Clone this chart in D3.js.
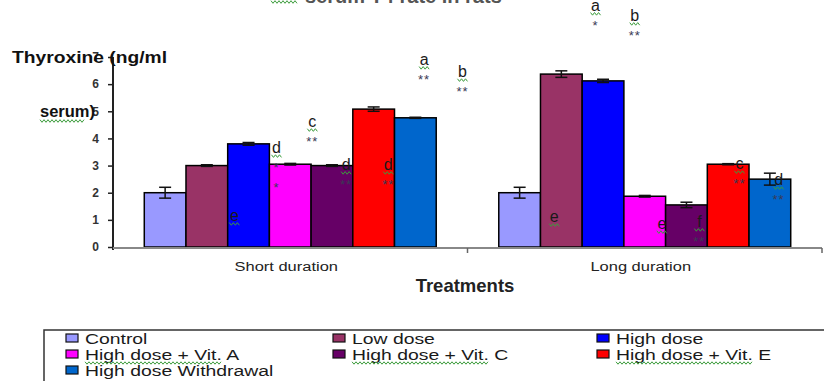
<!DOCTYPE html>
<html>
<head>
<meta charset="utf-8">
<script src="https://cdn.jsdelivr.net/npm/d3@7/dist/d3.min.js"></script>
<style>
  body { margin: 0; background: #fff; }
  svg { display: block; font-family: "Liberation Sans", Arial, sans-serif; }
</style>
</head>
<body>
<div id="graph"></div>
<script>
const groups = ["Short duration", "Long duration"]
const series = ["Control", "Low dose", "High dose", "High dose + Vit. A",
  "High dose + Vit. C", "High dose + Vit. E", "High dose Withdrawal"]
const colors = ["#9999ff", "#993366", "#0000ff", "#ff00ff", "#660066", "#ff0000", "#0066cc"]

const shortValues = [2.0, 3.0, 3.8, 3.05, 3.0, 5.08, 4.76]
const longValues = [2.0, 6.37, 6.12, 1.87, 1.55, 3.05, 2.5]
const shortErrors = [0.2, 0.03, 0.05, 0.03, 0.03, 0.08, 0.02]
const longErrors = [0.2, 0.12, 0.06, 0.03, 0.1, 0.02, 0.22]
const yTicks = [0, 1, 2, 3, 4, 5, 6, 7]

// significance letters: pos = bar index (fractional), y = letter baseline in data units
const shortNotes = [
  { pos: 1.66, y: 0.96, letter: "e", stars: [] },
  { pos: 2.67, y: 3.46, letter: "d", stars: ["*", "*"] },
  { pos: 3.53, y: 4.42, letter: "c", stars: ["**"] },
  { pos: 4.34, y: 2.84, letter: "d", stars: ["**"] },
  { pos: 5.35, y: 2.84, letter: "d", stars: ["**"] },
  { pos: 6.21, y: 6.71, letter: "a", stars: ["**"] },
  { pos: 7.13, y: 6.26, letter: "b", stars: ["**"] }
]
const longNotes = [
  { pos: 1.82, y: 8.7, letter: "a", stars: ["*"] },
  { pos: 2.76, y: 8.33, letter: "b", stars: ["**"] },
  { pos: 0.83, y: 0.92, letter: "e", stars: [] },
  { pos: 3.41, y: 0.66, letter: "e", stars: [] },
  { pos: 4.31, y: 0.74, letter: "f", stars: ["**"] },
  { pos: 5.27, y: 2.87, letter: "c", stars: ["**"] },
  { pos: 6.21, y: 2.28, letter: "d", stars: ["**"] }
]

const W = 824, H = 381
const svg = d3.select("#graph").append("svg")
  .attr("width", W)
  .attr("height", H)

const x0 = d3.scaleBand().domain(groups).range([113, 822])
const x1 = d3.scaleBand().domain(d3.range(series.length))
  .range([0, x0.bandwidth()]).paddingOuter(0.75).paddingInner(0)
const y = d3.scaleLinear().domain([0, 7]).range([247, 57])

// green spell-check squiggle
function squiggle(xa, xb, yy) {
  let pts = []
  for (let xx = xa, k = 0; xx <= xb; xx += 2, k++) pts.push([xx, yy + (k % 2 ? 1.3 : -1.3)])
  svg.append("path")
    .attr("d", d3.line()(pts))
    .attr("fill", "none")
    .attr("stroke", "#3c9c3c")
    .attr("stroke-width", 1)
}

// clipped title at the top
svg.append("text")
  .attr("x", 305).attr("y", 3)
  .text("serum T4 rate in rats")
  .style("font-size", "20px").style("font-weight", "bold").attr("fill", "#555")
squiggle(271, 297, 2)

const data = [
  { group: groups[0], values: shortValues, errors: shortErrors, notes: shortNotes },
  { group: groups[1], values: longValues, errors: longErrors, notes: longNotes }
]

// bars
data.forEach(g => {
  const gx = x0(g.group)
  svg.append("g").selectAll("rect")
    .data(g.values)
    .enter().append("rect")
    .attr("x", (d, i) => gx + x1(i))
    .attr("y", d => y(d))
    .attr("width", x1.bandwidth())
    .attr("height", d => y(0) - y(d))
    .attr("fill", (d, i) => colors[i])
    .attr("stroke", "#000")
    .attr("stroke-width", 1.5)

  // error bars
  const eb = svg.append("g").attr("stroke", "#111").attr("stroke-width", 1.5)
  g.values.forEach((v, i) => {
    const cx = gx + x1(i) + x1.bandwidth() / 2
    const e = g.errors[i]
    eb.append("line").attr("x1", cx).attr("x2", cx).attr("y1", y(v - e)).attr("y2", y(v + e))
    eb.append("line").attr("x1", cx - 6).attr("x2", cx + 6).attr("y1", y(v + e)).attr("y2", y(v + e))
    eb.append("line").attr("x1", cx - 6).attr("x2", cx + 6).attr("y1", y(v - e)).attr("y2", y(v - e))
  })
})

// axes
const yAxis = svg.append("g")
  .attr("transform", "translate(113,0)")
  .call(d3.axisLeft(y).tickValues(yTicks).tickFormat(d3.format("d")).tickSize(5).tickPadding(9))
yAxis.select(".domain").attr("stroke", "#222").attr("stroke-width", 2)
  .attr("d", "M0,57V250")
yAxis.selectAll(".tick line").attr("stroke", "#222").attr("stroke-width", 1.5)
yAxis.selectAll(".tick text")
  .style("font-size", "12px").style("font-weight", "bold")
  .style("font-family", "Liberation Sans, Arial, sans-serif").attr("fill", "#333")

const xAxis = svg.append("g")
  .attr("transform", "translate(0,248)")
xAxis.append("line").attr("x1", 113).attr("x2", 822).attr("stroke", "#888").attr("stroke-width", 2)
xAxis.selectAll(".sep")
  .data(groups.slice(1).concat(["end"]))
  .enter().append("line")
  .attr("x1", d => d === "end" ? x0.range()[1] : x0(d))
  .attr("x2", d => d === "end" ? x0.range()[1] : x0(d))
  .attr("y1", 0).attr("y2", 5)
  .attr("stroke", "#666").attr("stroke-width", 1.5)
xAxis.selectAll(".cat")
  .data(groups)
  .enter().append("text")
  .attr("transform", d => "translate(" + (x0(d) + x0.bandwidth() / 2 - 4) + ",23) scale(1.22,1)")
  .attr("text-anchor", "middle")
  .style("font-size", "13.5px")
  .attr("fill", "#222")
  .text(d => d)

svg.append("text")
  .attr("x", 465).attr("y", 292)
  .attr("text-anchor", "middle")
  .style("font-size", "18.5px").style("font-weight", "bold")
  .attr("fill", "#222")
  .text("Treatments")

// y axis title, split in two lines as in the original
svg.append("text")
  .attr("x", 12).attr("y", 63)
  .style("font-size", "16.5px").style("font-weight", "bold")
  .attr("fill", "#111")
  .attr("textLength", 155).attr("lengthAdjust", "spacingAndGlyphs")
  .text("Thyroxine (ng/ml")
svg.append("text")
  .attr("x", 40).attr("y", 117)
  .style("font-size", "16.5px").style("font-weight", "bold")
  .attr("fill", "#111")
  .text("serum)")
squiggle(40, 84, 121)

// significance letters and stars
data.forEach(g => {
  const gx = x0(g.group) + x1(0)
  const step = x1.step()
  g.notes.forEach(n => {
    const cx = gx + (n.pos + 0.5) * step
    const by = y(n.y)
    svg.append("text")
      .attr("x", cx).attr("y", by)
      .attr("text-anchor", "middle")
      .style("font-size", "16px")
      .attr("fill", "#1a1a1a")
      .text(n.letter)
    squiggle(cx - 5, cx + 5, by + 3)
    n.stars.forEach((s, k) => {
      svg.append("text")
        .attr("x", cx).attr("y", by + 19 + k * 20)
        .attr("text-anchor", "middle")
        .style("font-size", "13px")
        .style("letter-spacing", "1px")
        .attr("fill", "#3a3a55")
        .text(s)
    })
  })
})

// legend
svg.append("rect")
  .attr("x", 44).attr("y", 330)
  .attr("width", 800).attr("height", 60)
  .attr("fill", "#fff").attr("stroke", "#333").attr("stroke-width", 1.5)

const colX = [66, 333, 597]
const legend = svg.append("g").selectAll("g")
  .data(series)
  .enter().append("g")
  .attr("transform", (d, i) => "translate(" + colX[i % 3] + "," + (338 + Math.floor(i / 3) * 16) + ")")
legend.append("rect")
  .attr("x", 0).attr("y", -4)
  .attr("width", 12).attr("height", 8)
  .attr("fill", (d, i) => colors[i])
  .attr("stroke", "#111").attr("stroke-width", 1.2)
legend.append("text")
  .attr("transform", "translate(19,6) scale(1.25,1)")
  .style("font-size", "15.5px")
  .attr("fill", "#1a1a1a")
  .text(d => d)
legend.filter(d => d.indexOf("Vit.") >= 0)
  .append("path")
  .attr("d", d => {
    let pts = []
    for (let xx = 19, k = 0; xx <= 19 + d.length * 7.6; xx += 2, k++) pts.push([xx, 9 + (k % 2 ? 1.2 : -1.2)])
    return d3.line()(pts)
  })
  .attr("fill", "none").attr("stroke", "#3c9c3c").attr("stroke-width", 1)
</script>
</body>
</html>
